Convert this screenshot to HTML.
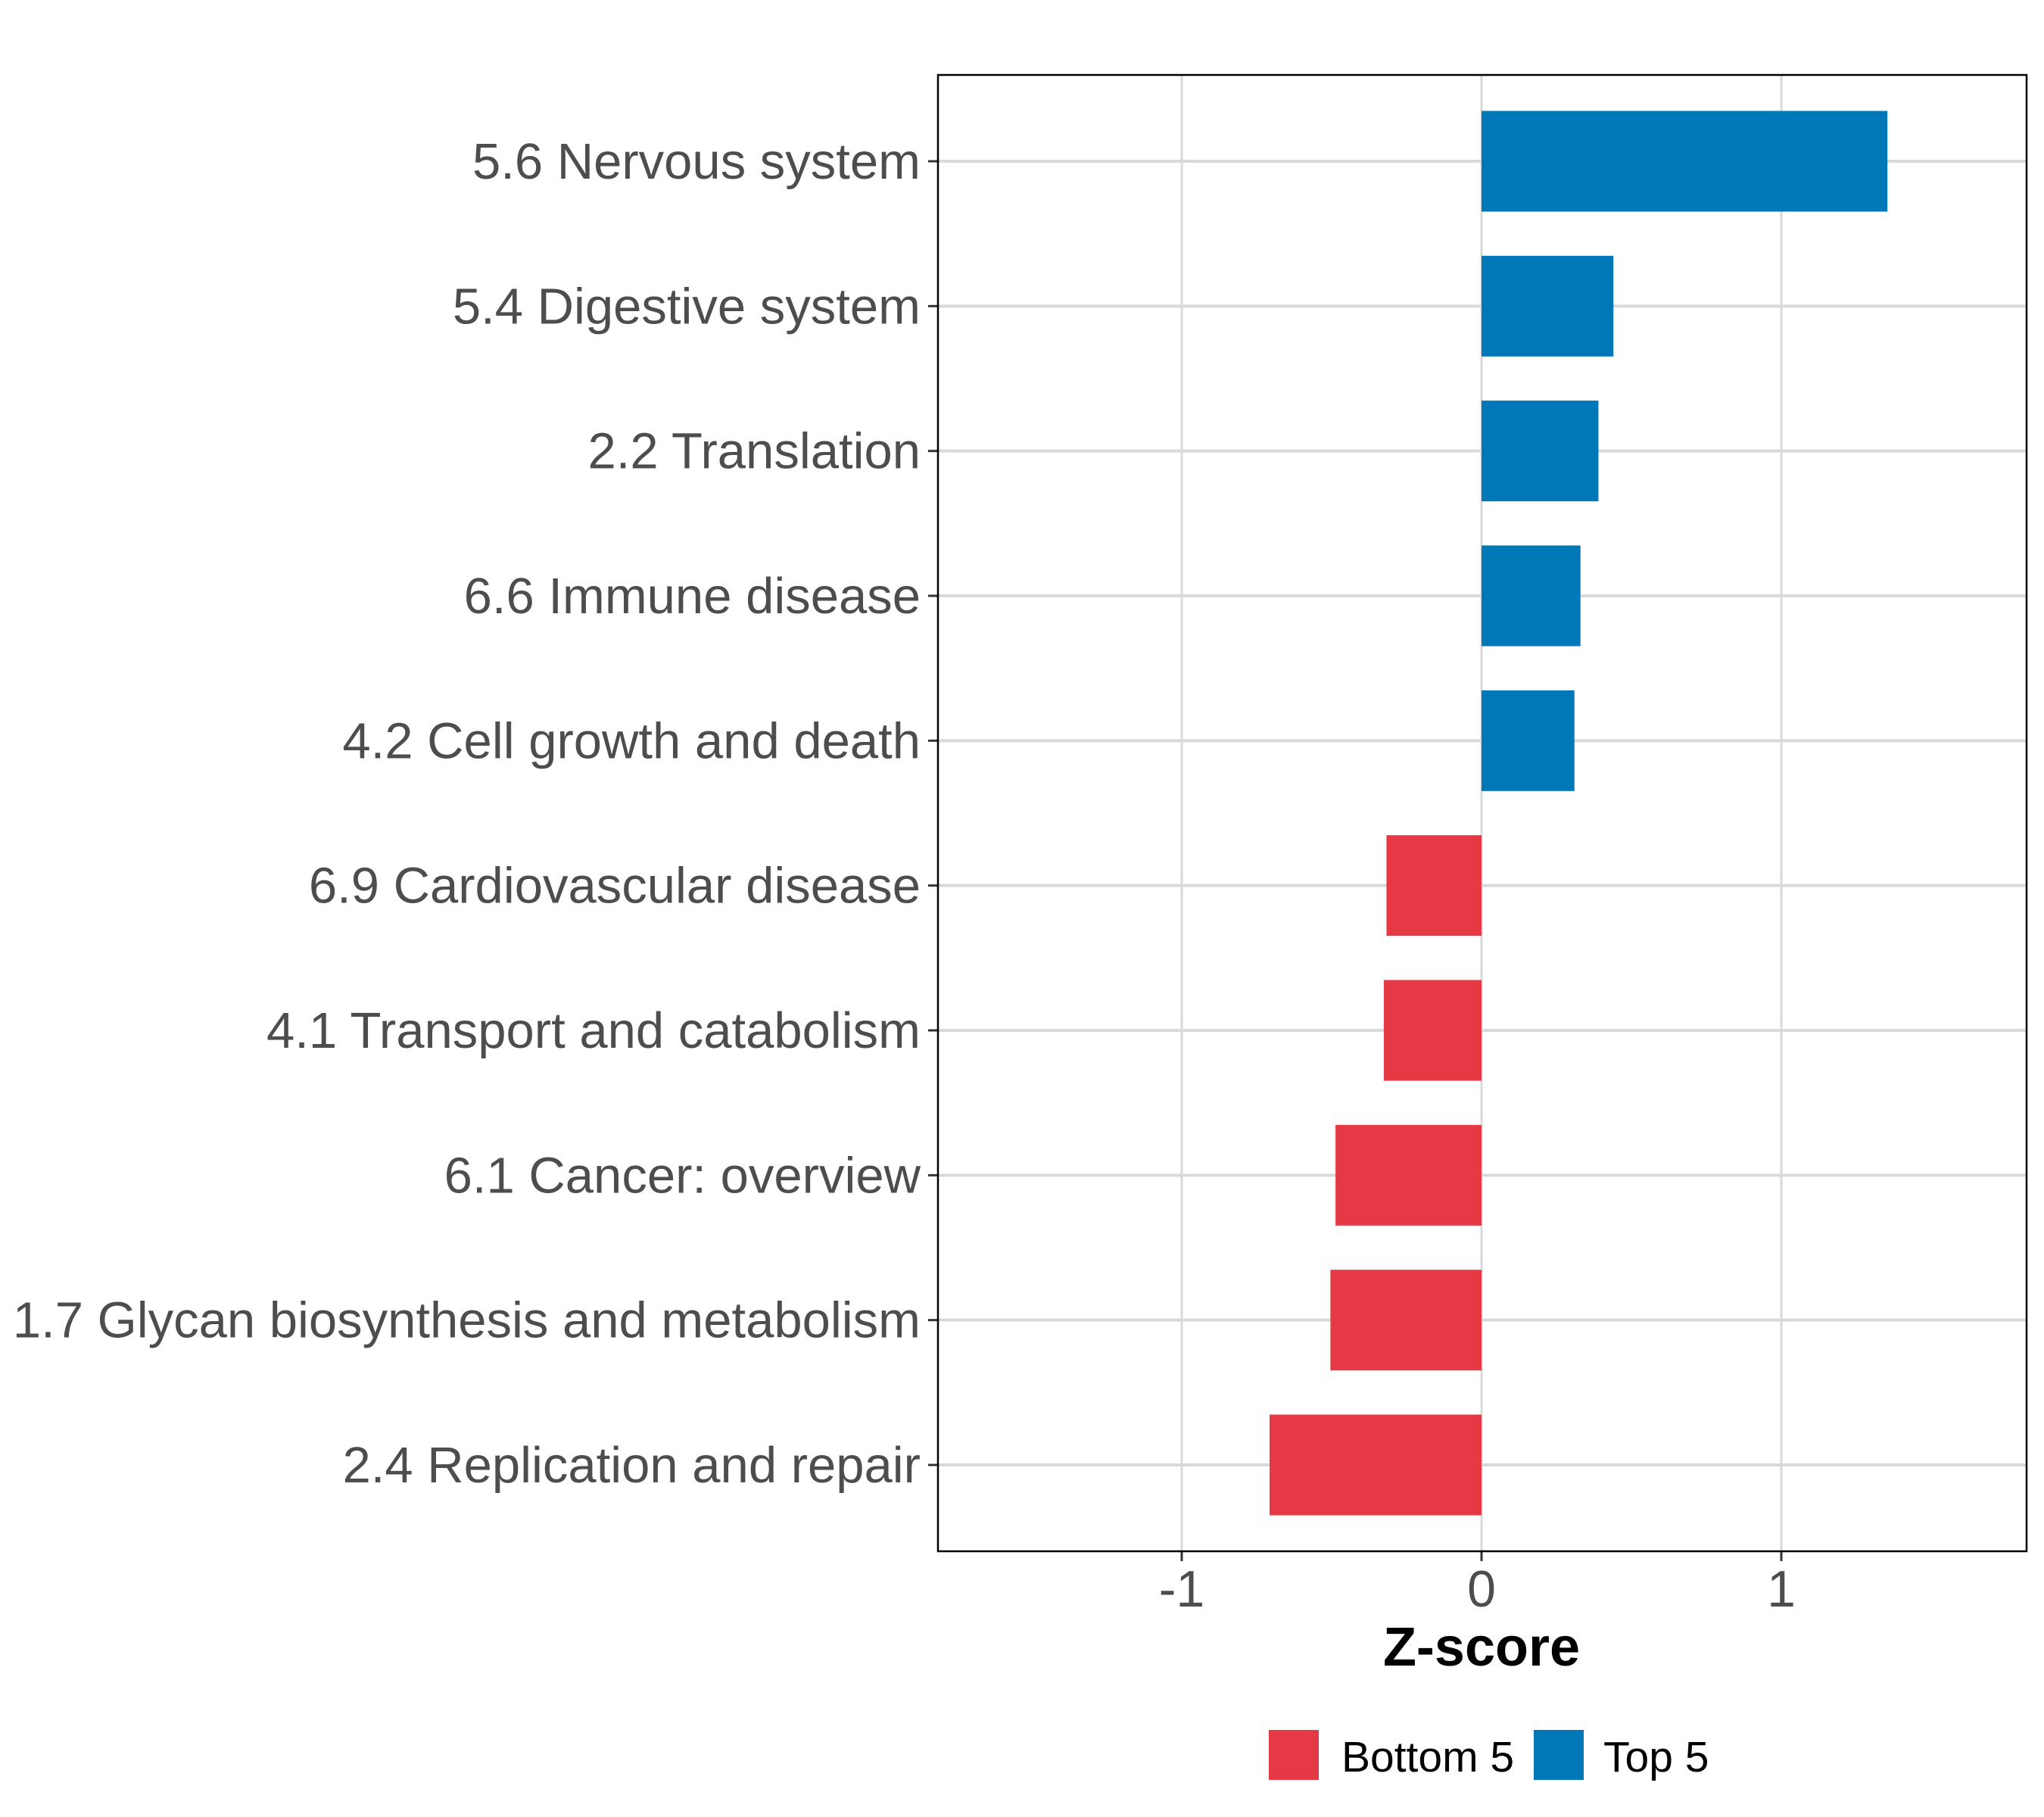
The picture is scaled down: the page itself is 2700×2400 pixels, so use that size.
<!DOCTYPE html>
<html><head><meta charset="utf-8"><style>
html,body{margin:0;padding:0;background:#fff;}
svg{display:block;}
text{font-family:"Liberation Sans",sans-serif;}
</style></head><body>
<svg id="chart" width="2700" height="2400" viewBox="0 0 2700 2400" xmlns="http://www.w3.org/2000/svg">
<rect x="0" y="0" width="2700" height="2400" fill="#fff"/>
<g id="grid"></g><g id="bars"></g><g id="axes"></g>
</svg>
<script>
const categories = ["5.6 Nervous system","5.4 Digestive system","2.2 Translation","6.6 Immune disease","4.2 Cell growth and death","6.9 Cardiovascular disease","4.1 Transport and catabolism","6.1 Cancer: overview","1.7 Glycan biosynthesis and metabolism","2.4 Replication and repair"];
const zscores = [1.354, 0.44, 0.39, 0.33, 0.31, -0.317, -0.326, -0.487, -0.504, -0.707];
const groups = ["Top 5","Top 5","Top 5","Top 5","Top 5","Bottom 5","Bottom 5","Bottom 5","Bottom 5","Bottom 5"];
const xTicks = [-1, 0, 1];
const xTickLabels = ["-1","0","1"];
const legendLabels = ["Bottom 5","Top 5"];

const NS="http://www.w3.org/2000/svg";
const colors={"Bottom 5":"#E63946","Top 5":"#0077B6"};
const P={l:1239,r:2677,t:99,b:2049};
const x0px=1957, unit=396;
const xs=v=>x0px+v*unit;
const y0=213, step=(1935-213)/9;
const ys=i=>y0+i*step;
const bh=133;
function mk(tag,attrs,parent,txt){const e=document.createElementNS(NS,tag);for(const k in attrs)e.setAttribute(k,attrs[k]);if(txt!==undefined)e.textContent=txt;parent.appendChild(e);return e;}
const grid=document.getElementById('grid'),bars=document.getElementById('bars'),axes=document.getElementById('axes');
xTicks.forEach((t,i)=>{
  const l=mk('line',{x1:xs(t),x2:xs(t),y1:P.t,y2:P.b,stroke:'#d9d9d9','stroke-width':3},grid);
  
  
  const tk=mk('line',{x1:xs(t),x2:xs(t),y1:P.b,y2:P.b+13,stroke:'#333','stroke-width':3},axes);
  
  
  const tl=mk('text',{x:xs(t),y:2122,'font-size':68,fill:'#4d4d4d','text-anchor':'middle'},axes,xTickLabels[i]);
  
  
});
categories.forEach((c,i)=>{
  const y=ys(i);
  const g=mk('line',{x1:P.l,x2:P.r,y1:y,y2:y,stroke:'#d9d9d9','stroke-width':4},grid);
  
  
  const v=zscores[i];
  const r=mk('rect',{x:Math.min(xs(0),xs(v)),y:y-bh/2,width:Math.abs(xs(v)-xs(0)),height:bh,fill:colors[groups[i]]},bars);
  
  
  const tk=mk('line',{x1:P.l-13,x2:P.l,y1:y,y2:y,stroke:'#333','stroke-width':3},axes);
  
  
  const tl=mk('text',{x:1216,y:y+23,'font-size':67,fill:'#4d4d4d','text-anchor':'end'},axes,c);
  
  
});
const fr=mk('rect',{x:P.l,y:P.t,width:P.r-P.l,height:P.b-P.t,fill:'none',stroke:'#000','stroke-width':2.5},axes);


const xt=mk('text',{x:x0px,y:2200,'font-size':72,'font-weight':'bold',fill:'#000','text-anchor':'middle'},axes,'Z-score');


const lx=[1676,2026], tx=[1772,2118];
legendLabels.forEach((lab,i)=>{
  const k=mk('rect',{x:lx[i],y:2285,width:66,height:66,fill:colors[lab]},axes);
  
  
  const t=mk('text',{x:tx[i],y:2340,'font-size':57,fill:'#000'},axes,lab);
  
  
});
</script>
</body></html>
